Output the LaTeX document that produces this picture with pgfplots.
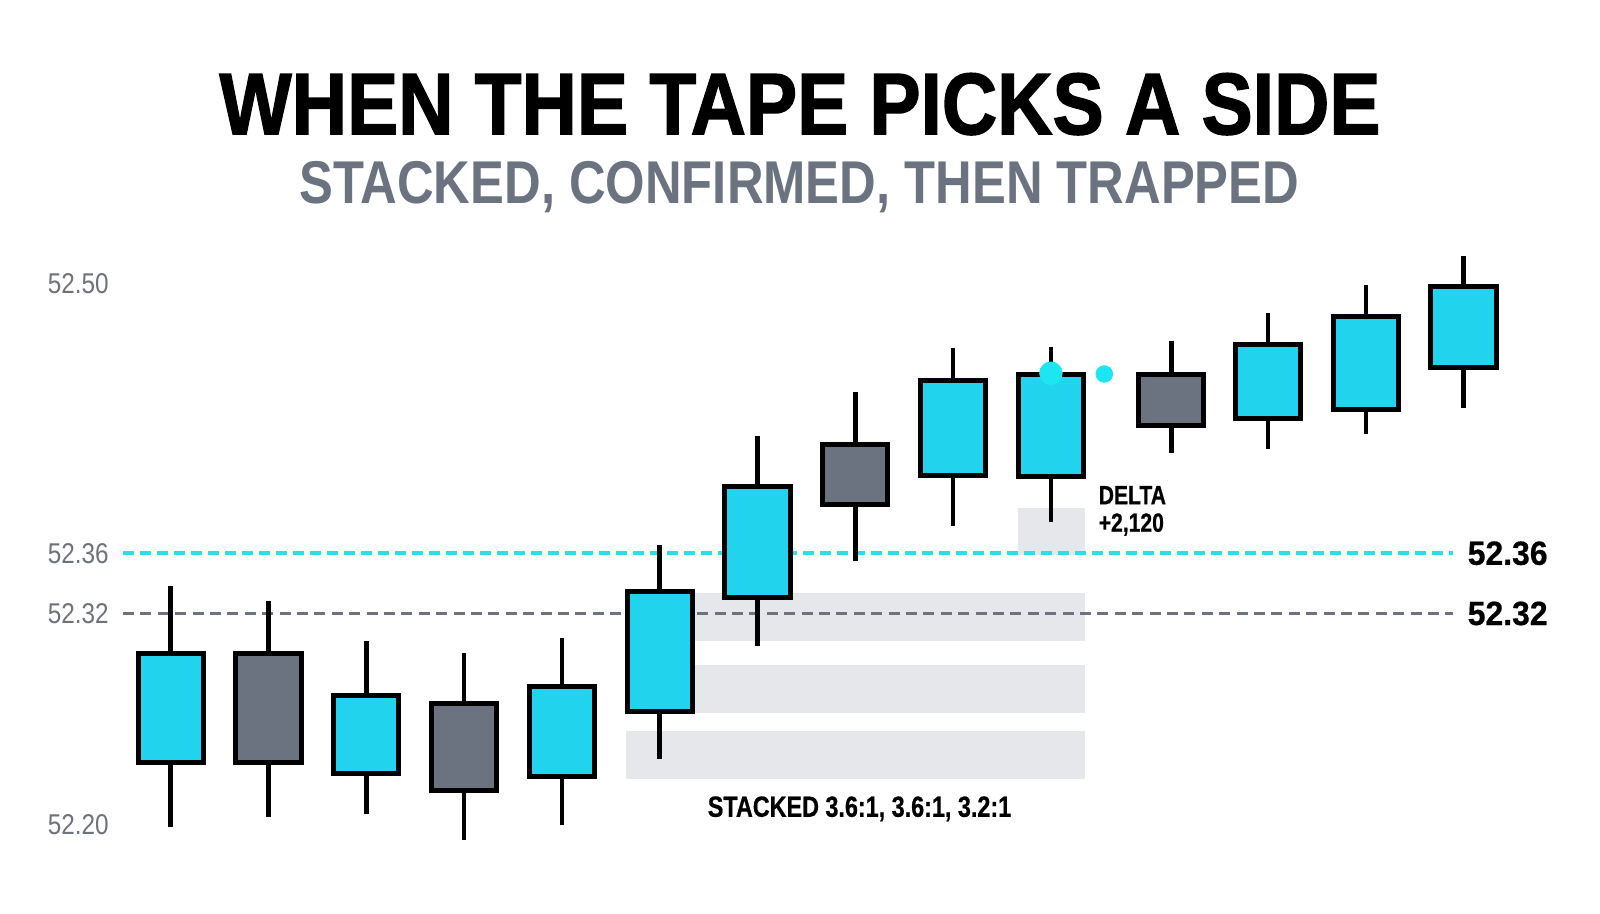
\documentclass[border=0pt]{standalone}
\usepackage{pgfplots}
\pgfplotsset{compat=1.18}
\usepackage{fontspec}
\setmainfont{Liberation Sans}
\newfontfamily\titlefont[FakeStretch=0.875,FakeBold=1.5]{Liberation Sans}
\newfontfamily\subfont[FakeStretch=0.84]{Liberation Sans}
\newfontfamily\tickfont[FakeStretch=0.85]{Liberation Sans}
\newfontfamily\condfont[FakeStretch=0.8,FakeBold=0.6]{Liberation Sans}
\newfontfamily\numfont[FakeStretch=0.95,FakeBold=0.6]{Liberation Sans}
\definecolor{cyanc}{HTML}{22D3EE}
\definecolor{linec}{HTML}{2FDCEA}
\definecolor{grayc}{HTML}{6B7280}
\definecolor{dotc}{HTML}{1CE6F2}
\definecolor{boxc}{HTML}{E5E7EB}
\definecolor{tickc}{HTML}{6E727A}
\begin{document}
\begin{tikzpicture}
\path[use as bounding box] (0,0) rectangle (800pt,457pt);
\node[anchor=base, inner sep=0pt] at (400pt,389.85pt) {\titlefont\bfseries\fontsize{43.8}{50}\selectfont WHEN THE TAPE PICKS A SIDE};
\node[anchor=base, inner sep=0pt, text=grayc] at (399.75pt,355.35pt) {\subfont\bfseries\fontsize{30.2}{34}\selectfont STACKED, CONFIRMED, THEN TRAPPED};
\begin{axis}[
  at={(60.9pt,27.05pt)}, anchor=south west,
  scale only axis, width=689.49pt, height=307.19pt,
  xmin=-0.5, xmax=13.6, ymin=52.18, ymax=52.52,
  y coord trafo/.code={\pgfmathparse{#1<=52.32 ? (#1-52.2)*1760 : (#1<=52.36 ? 211.2+(#1-52.32)*1505 : 271.4+(#1-52.36)*1923.57)}},
  axis line style={draw=none}, major tick length=0pt,
  xtick=\empty,
  ytick={52.2,52.32,52.36,52.5},
  yticklabels={52.20,52.32,52.36,52.50},
  yticklabel style={anchor=east, inner sep=0pt, xshift=-6.4pt, text=tickc, font=\tickfont\fontsize{14.3}{16}\selectfont},
  clip=false,
]
% shaded zones
\addplot[draw=none, fill=boxc] coordinates {(4.655,52.3044) (9.349,52.3044) (9.349,52.3334) (4.655,52.3334)} --cycle;
\addplot[draw=none, fill=boxc] coordinates {(4.655,52.2633) (9.349,52.2633) (9.349,52.2906) (4.655,52.2906)} --cycle;
\addplot[draw=none, fill=boxc] coordinates {(4.655,52.2260) (9.349,52.2260) (9.349,52.2532) (4.655,52.2532)} --cycle;
\addplot[draw=none, fill=boxc] coordinates {(8.667,52.3589) (9.349,52.3589) (9.349,52.3833) (8.667,52.3833)} --cycle;
% levels
\addplot[linec, line width=1.8pt, dash pattern=on 5.5pt off 3pt] coordinates {(-0.488,52.36) (13.108,52.36)};
\addplot[grayc, line width=1.7pt, dash pattern=on 5.5pt off 3.2pt] coordinates {(-0.488,52.32) (13.108,52.32)};
% wicks
\pgfplotsset{wick/.style={black, line width=2.3pt}}
\addplot[wick] coordinates {(0,52.1989) (0,52.3385)};
\addplot[wick] coordinates {(1,52.2042) (1,52.3285)};
\addplot[wick] coordinates {(2,52.2059) (2,52.3045)};
\addplot[wick] coordinates {(3,52.1914) (3,52.2976)};
\addplot[wick] coordinates {(4,52.2001) (4,52.3062)};
\addplot[wick] coordinates {(5,52.2373) (5,52.3644)};
\addplot[wick] coordinates {(6,52.3017) (6,52.4211)};
\addplot[wick] coordinates {(7,52.3548) (7,52.4440)};
\addplot[wick] coordinates {(8,52.3743) (8,52.4667)};
\addplot[wick] coordinates {(9,52.3761) (9,52.4671)};
\addplot[wick] coordinates {(10.23,52.4120) (10.23,52.4705)};
\addplot[wick] coordinates {(11.22,52.4142) (11.22,52.4848)};
\addplot[wick] coordinates {(12.22,52.4222) (12.22,52.4997)};
\addplot[wick] coordinates {(13.22,52.4357) (13.22,52.5146)};
% bodies
\pgfplotsset{body/.style={draw=black, line width=2.5pt, line join=miter}}
\addplot[body, fill=cyanc] coordinates {(-0.334,52.2356) (0.334,52.2356) (0.334,52.2972) (-0.334,52.2972)} --cycle;
\addplot[body, fill=grayc] coordinates {(0.666,52.2972) (1.334,52.2972) (1.334,52.2356) (0.666,52.2356)} --cycle;
\addplot[body, fill=cyanc] coordinates {(1.666,52.2290) (2.334,52.2290) (2.334,52.2735) (1.666,52.2735)} --cycle;
\addplot[body, fill=grayc] coordinates {(2.666,52.2691) (3.334,52.2691) (3.334,52.2193) (2.666,52.2193)} --cycle;
\addplot[body, fill=cyanc] coordinates {(3.666,52.2273) (4.334,52.2273) (4.334,52.2784) (3.666,52.2784)} --cycle;
\addplot[body, fill=cyanc] coordinates {(4.666,52.2644) (5.334,52.2644) (5.334,52.3348) (4.666,52.3348)} --cycle;
\addplot[body, fill=cyanc] coordinates {(5.666,52.3303) (6.334,52.3303) (6.334,52.3946) (5.666,52.3946)} --cycle;
\addplot[body, fill=grayc] coordinates {(6.666,52.4164) (7.334,52.4164) (7.334,52.3856) (6.666,52.3856)} --cycle;
\addplot[body, fill=cyanc] coordinates {(7.666,52.4003) (8.334,52.4003) (8.334,52.4499) (7.666,52.4499)} --cycle;
\addplot[body, fill=cyanc] coordinates {(8.666,52.4000) (9.334,52.4000) (9.334,52.4531) (8.666,52.4531)} --cycle;
\addplot[body, fill=grayc] coordinates {(9.896,52.4531) (10.564,52.4531) (10.564,52.4265) (9.896,52.4265)} --cycle;
\addplot[body, fill=cyanc] coordinates {(10.886,52.4301) (11.554,52.4301) (11.554,52.4683) (10.886,52.4683)} --cycle;
\addplot[body, fill=cyanc] coordinates {(11.886,52.4348) (12.554,52.4348) (12.554,52.4832) (11.886,52.4832)} --cycle;
\addplot[body, fill=cyanc] coordinates {(12.886,52.4564) (13.554,52.4564) (13.554,52.4988) (12.886,52.4988)} --cycle;
% markers
\addplot[only marks, mark=*, mark size=5.65pt, dotc, mark options={draw=none, fill=dotc}] coordinates {(9,52.4536)};
\addplot[only marks, mark=*, mark size=4.15pt, dotc, mark options={draw=none, fill=dotc}] coordinates {(9.546,52.4532)};
% labels
\node[anchor=west, inner sep=0pt] at (axis cs:13.258,52.36) {\numfont\bfseries\fontsize{16.8}{18}\selectfont 52.36};
\node[anchor=west, inner sep=0pt] at (axis cs:13.258,52.32) {\numfont\bfseries\fontsize{16.8}{18}\selectfont 52.32};
\node[anchor=base, inner sep=0pt] at (axis cs:7.043,52.2045) {\condfont\bfseries\fontsize{14.6}{16}\selectfont STACKED 3.6:1, 3.6:1, 3.2:1};
\node[anchor=base west, inner sep=0pt] at (axis cs:9.485,52.3855) {\condfont\bfseries\fontsize{13.2}{15}\selectfont DELTA};
\node[anchor=base west, inner sep=0pt] at (axis cs:9.485,52.3712) {\condfont\bfseries\fontsize{13.2}{15}\selectfont +2,120};
\end{axis}
\end{tikzpicture}
\end{document}
